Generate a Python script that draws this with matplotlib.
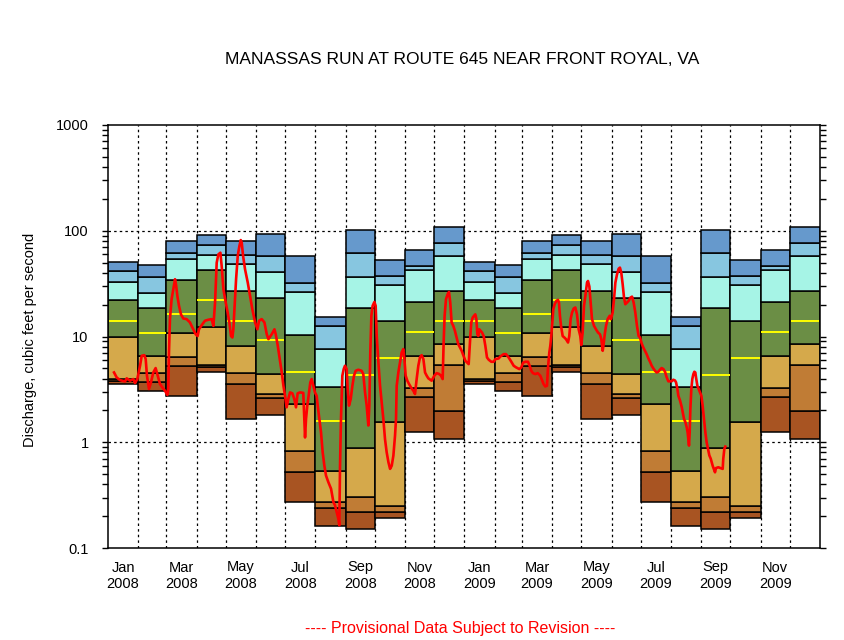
# monthly flow percentile bars with daily discharge for
# Manassas Run at Route 645, 2008-2009

from matplotlib import pyplot as plt
from matplotlib.ticker import FixedLocator, LogLocator, NullFormatter
import numpy as np

# monthly statistics, Jan..Dec (same for both years)
pmax = [51.0, 47.8, 80.5, 91.7, 80.5, 93.7, 58.1, 15.4, 102, 53.2, 66.2, 109]
p95 = [42.0, 36.8, 62.0, 73.8, 59.4, 58.1, 32.3, 12.7, 62.0, 37.6, 46.8, 77.1]
p90 = [33.0, 26.0, 54.4, 59.4, 48.9, 41.0, 26.6, 7.7, 36.8, 31.0, 42.9, 58.1]
p75 = [21.9, 18.8, 34.5, 42.9, 27.2, 23.3, 10.4, 3.30, 18.4, 13.9, 21.4, 27.2]
p50 = [13.9, 10.7, 16.5, 22.3, 13.9, 9.17, 4.57, 1.58, 4.29, 6.2, 11.1, 13.9]
p25 = [9.8, 6.6, 10.9, 12.4, 8.22, 4.38, 2.28, 0.532, 0.877, 1.55, 6.6, 8.41]
p10 = [3.96, 4.48, 6.34, 5.37, 4.48, 2.84, 0.822, 0.272, 0.303, 0.249, 3.23, 5.32]
p05 = [3.79, 3.68, 5.21, 5.10, 3.52, 2.60, 0.521, 0.238, 0.219, 0.219, 2.66, 1.96]
pmin = [3.52, 3.03, 2.72, 4.57, 1.65, 1.80, 0.270, 0.161, 0.151, 0.192, 1.24, 1.07]

# daily discharge: days since 2008-01-01, cfs
flow_day = [
    6.2, 8.9, 12.3, 17.5, 19.2, 22.6, 26.0, 27.7, 30.1, 32.9, 34.6, 37.3, 38.7, 40.0,
    42.1, 44.1, 46.5, 48.9, 51.0, 53.4, 55.8, 58.5, 60.9, 61.9, 62.6, 63.6, 65.3, 67.1,
    68.8, 69.8, 71.2, 72.9, 74.9, 77.3, 80.7, 84.1, 87.6, 90.0, 92.0, 93.4, 96.2, 99.6,
    103.0, 106.4, 108.2, 109.9, 111.6, 113.3, 115.4, 116.7, 118.5, 120.9, 122.9, 124.6,
    126.3, 127.7, 128.7, 130.4, 131.5, 133.2, 134.9, 136.3, 137.3, 138.7, 140.7, 143.5,
    145.9, 148.2, 151.0, 153.4, 155.1, 157.8, 160.6, 163.0, 164.7, 168.1, 170.9, 172.2,
    174.3, 176.3, 178.4, 180.1, 181.8,
    183.4, 185.1, 186.9, 189.3, 191.3, 193.0, 194.7, 197.1, 200.5, 201.6, 202.3, 203.3,
    204.6, 206.3, 207.7, 209.1, 210.8, 212.5, 214.2, 215.3, 217.0, 218.7, 220.4, 222.1,
    223.8, 226.2, 229.0, 231.4, 233.1, 234.8, 236.5, 237.5, 238.2, 239.2, 240.6, 242.0,
    243.3, 245.0, 246.1, 247.4, 249.2, 250.9, 252.6, 254.3, 257.0, 260.4, 262.1, 263.9,
    265.6, 267.3, 268.3, 269.3, 270.4, 271.7, 273.5, 274.8, 275.9, 277.6, 279.3, 281.0,
    282.7, 284.4, 286.1, 287.9, 289.6, 291.3, 293.0, 294.7, 295.7, 296.4, 298.1, 299.8,
    301.5, 303.2, 304.3, 305.6, 307.3, 309.1, 311.1, 313.5, 315.2, 316.9, 318.6, 320.3,
    322.0, 323.8, 325.5, 327.2, 328.9, 332.3, 335.0, 337.4, 339.8, 341.9, 343.6, 344.6,
    345.6, 347.0, 348.7, 350.1, 351.4, 352.8, 354.5, 356.2, 357.9, 359.6, 361.4, 363.1,
    365.2, 366.9, 368.6, 370.3, 371.0, 372.0, 373.0, 374.4, 375.8, 377.1, 378.2, 379.2,
    380.2, 381.2, 382.6, 384.0, 385.7, 387.4, 389.1, 390.8, 393.5, 395.9, 397.7, 401.1,
    402.8, 406.2, 408.6, 411.3, 414.1, 416.5, 418.9, 420.9, 422.3, 424.4, 426.1, 428.5,
    431.2, 432.9, 434.6, 436.3, 438.7, 441.2, 443.8, 445.5, 447.2, 448.9, 450.7, 451.7,
    453.1, 454.1, 455.1, 456.2, 457.2, 458.6, 460.3, 462.0, 463.0, 464.0, 465.1, 466.8,
    468.5, 470.2, 472.3, 473.6, 475.0, 476.4, 478.1, 479.8, 481.5, 483.2, 484.9, 485.9,
    487.3, 488.7, 490.1, 491.8, 492.8, 494.2, 495.5, 496.9, 499.0, 501.0, 503.1, 505.1,
    506.5, 507.9, 508.9, 510.0, 511.3, 513.0, 515.1, 516.4, 518.1, 519.5, 520.9, 522.6,
    524.3, 525.6, 527.0, 528.4, 529.8, 531.1, 532.8, 534.5, 536.3, 538.0, 539.7, 541.4,
    543.1, 544.8, 546.2, 547.9, 549.6, 551.3, 553.0, 554.8, 556.5, 558.2, 559.9, 561.6,
    563.3, 565.0, 566.7, 568.4, 570.2, 571.9, 573.6, 575.3, 577.0, 578.7, 580.4, 582.1,
    583.2, 584.6, 585.6, 587.3, 589.0, 590.0, 591.4, 592.8, 594.1, 595.1, 595.8, 596.5,
    597.2, 597.9, 598.9, 599.9, 601.0, 602.0, 603.0, 603.7, 605.1, 606.4, 607.8, 609.2,
    610.5, 611.9, 613.3, 614.6, 616.0, 617.4, 618.8, 620.8, 622.2, 623.2, 624.2, 626.6,
    629.0, 631.1, 631.7, 632.8, 633.8,
]
flow_cfs = [
    4.57, 4.10, 3.87, 3.76, 4.02, 3.82, 3.96, 3.63, 3.96, 5.29, 6.57, 6.66, 6.11, 4.26,
    3.19, 3.68, 4.57, 5.03, 4.26, 3.55, 3.30, 3.07, 2.80, 3.19, 7.06, 14.6, 22.5, 28.0,
    34.8, 31.2, 24.2, 19.5, 16.2, 14.8, 14.6, 13.6, 11.7, 10.5, 10.1, 11.7, 12.8, 14.1,
    14.4, 14.6, 12.6, 20.9, 49.9, 59.8, 62.0, 46.4, 28.0, 20.9, 16.8, 13.6,
    10.1, 9.79, 11.7, 22.5, 34.8, 57.7, 71.7, 81.6, 77.1, 57.7, 43.2, 32.3,
    24.2, 18.1, 13.6, 11.7, 14.1, 14.6, 13.6, 10.5, 9.44, 10.5, 11.7, 10.5,
    8.17, 6.11, 4.57, 3.42, 2.75,
    2.14, 2.56, 2.96, 2.90, 2.56, 2.14, 2.90, 2.96, 2.93, 1.66, 1.11, 1.66,
    2.22, 2.90, 3.68, 3.96, 3.42, 2.96, 2.75, 2.22, 1.66, 1.24, 0.805, 0.603,
    0.485, 0.42, 0.363, 0.272, 0.253, 0.219, 0.189, 0.164, 0.581, 1.66, 4.26, 4.92,
    5.29, 4.92, 3.19, 2.22, 2.56, 3.42, 4.26, 4.74, 4.85, 4.74, 4.41, 2.96,
    2.22, 1.44, 2.22, 7.06, 15.7, 19.5, 21.2, 19.5, 10.1, 5.69, 3.42, 2.38,
    1.66, 1.07, 0.805, 0.648, 0.56, 0.60, 0.748, 1.16, 1.66, 3.42, 4.57, 5.69,
    7.06, 7.6, 6.11, 4.26, 3.82, 3.55, 3.30, 3.07, 2.86, 3.96, 5.29, 6.34,
    6.66, 6.11, 4.57, 4.26, 4.02, 3.82, 4.26, 4.5, 4.43, 4.26, 3.96, 8.77,
    15.7, 22.5, 25.1, 26.4, 20.9, 13.6, 12.6, 11.3, 9.79, 8.47, 7.87, 7.33,
    6.47, 5.89, 5.69, 5.48, 7.06, 10.1, 13.6, 15.1, 15.7, 16.2, 14.6, 10.5,
    10.1, 11.7, 11.3, 10.9, 10.1, 8.17, 6.34, 6.04, 5.77, 5.77, 6.11, 6.2,
    6.47, 6.81, 6.81, 6.34, 5.77, 5.29, 5.11, 4.99, 4.92, 5.11, 5.65, 5.77,
    5.77, 5.29, 4.74, 4.50, 4.41, 4.50, 4.26, 3.90, 3.55, 3.37, 3.42, 5.03,
    7.06, 8.17, 10.1, 13.6, 18.1, 20.2, 21.7, 22.2, 20.9, 15.7, 12.6, 10.1,
    9.79, 9.44, 8.77, 10.1, 14.6, 16.8, 18.4, 18.8, 16.2, 11.7, 10.1, 8.3,
    10.9, 19.5, 24.2, 32.3, 33.5, 29.7, 20.9, 14.6, 12.6, 11.7, 10.9, 10.5,
    9.44, 7.33, 8.55, 10.5, 12.6, 14.6, 15.7, 14.6, 16.8, 22.5, 32.3, 38.7,
    43.8, 44.8, 40.0, 31.2, 23.3, 20.2, 20.9, 21.7, 23.3, 23.8, 20.9, 16.8,
    12.6, 10.1, 9.79, 8.6, 7.87, 7.33, 6.81, 6.2, 5.77, 5.29, 4.99, 4.74,
    4.57, 4.64, 4.85, 5.03, 4.92, 4.64, 4.11, 3.77, 3.77, 3.77, 3.90, 3.84,
    3.68, 3.19, 2.75, 2.48, 2.16, 1.94, 1.66, 1.55, 1.39, 1.24, 1.07, 0.93,
    1.24, 2.06, 3.19, 3.96, 4.41, 4.64, 4.57, 4.11, 3.42, 3.19, 2.96, 2.75,
    2.22, 1.66, 1.24, 1.0, 0.865, 0.75, 0.70, 0.60, 0.552, 0.52, 0.57, 0.58,
    0.57, 0.56, 0.70, 0.865, 0.91,
]

label_months = ["Jan", "Mar", "May", "Jul", "Sep", "Nov"]
years = ["2008", "2009"]

band_colors = ['#a85422', '#c07c35', '#d5a94b', '#6b8e45',
               '#a6f4e6', '#87c6e0', '#6699cc']

# month edges as day offsets from 2008-01-01
months = np.arange('2008-01', '2010-02', dtype='datetime64[M]')
edges = (months.astype('datetime64[D]') - np.datetime64('2008-01-01')).astype(int)

plt.rcParams['font.family'] = ['Liberation Sans', 'DejaVu Sans']

fig = plt.figure(figsize=(8.45, 6.4), dpi=100)
ax = fig.add_axes([108/845, 1-548/640, 712/845, 423/640])

bounds = [pmin, p05, p10, p25, p75, p90, p95, pmax]
for i in range(24):
    m = i % 12
    left = edges[i]
    width = edges[i+1] - edges[i]
    for b in range(7):
        lo, hi = bounds[b][m], bounds[b+1][m]
        ax.bar(left, hi - lo, width=width, bottom=lo, align='edge',
               color=band_colors[b], edgecolor='black', linewidth=1.1, zorder=2)
    ax.hlines(p50[m], left + 0.8, left + width - 0.8, color='#ffff00',
              linewidth=1.4, zorder=3)

ax.plot(flow_day, flow_cfs, color='#ff0000', linewidth=1.9, zorder=4)

ax.set_yscale('log')
ax.set_ylim(0.1, 1000)
ax.set_xlim(edges[0], edges[-1])

# grid
for e in edges[1:-1]:
    ax.axvline(e, color='black', linewidth=0.9, linestyle=(0, (2, 2.5)), zorder=1)
for v in [1, 10, 100]:
    ax.axhline(v, color='black', linewidth=0.9, linestyle=(0, (2, 2.5)), zorder=1)

# y ticks
ax.yaxis.set_major_locator(FixedLocator([0.1, 1, 10, 100, 1000]))
ax.set_yticklabels(['0.1', '1', '10', '100', '1000'])
ax.yaxis.set_minor_locator(LogLocator(base=10, subs=np.arange(2, 10)))
ax.yaxis.set_minor_formatter(NullFormatter())
ax.tick_params(axis='y', which='both', direction='out', length=4, width=1,
               right=True, labelsize=10.5, pad=10)

# x ticks at mid-month every two months
mids = [(edges[i] + edges[i+1]) / 2 for i in range(0, 24, 2)]
xlabels = [f"{mn}\n{yr}" for yr in years for mn in label_months]
ax.set_xticks(mids)
ax.set_xticklabels(xlabels, linespacing=1.25)
ax.tick_params(axis='x', length=0, labelsize=10.5, pad=9)

for s in ax.spines.values():
    s.set_linewidth(1.1)

fig.text(462/845, 1-60/640, "MANASSAS RUN AT ROUTE 645 NEAR FRONT ROYAL, VA",
         ha='center', va='center', fontsize=12.5)
fig.text(30/845, 1-340/640, "Discharge, cubic feet per second",
         ha='center', va='center', rotation=90, fontsize=10.5)
fig.text(460/845, 1-628/640, "---- Provisional Data Subject to Revision ----",
         ha='center', va='center', fontsize=11.5, color='#ff0000')

plt.savefig('out.png', dpi=100)
